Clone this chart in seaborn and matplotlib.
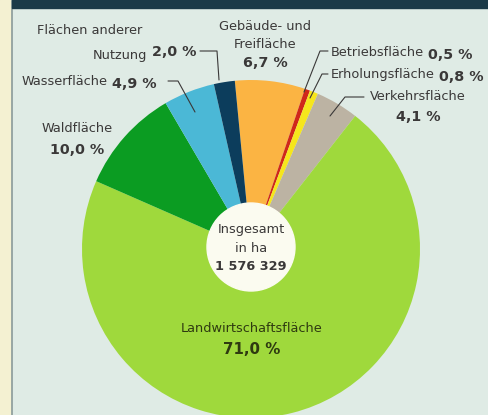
import matplotlib
matplotlib.use("Agg")
import matplotlib.pyplot as plt
import seaborn as sns
from matplotlib.patches import Circle, Rectangle

# Flächennutzung, Anteile in %
categories = ["Gebäude- und Freifläche", "Betriebsfläche", "Erholungsfläche", "Verkehrsfläche",
              "Landwirtschaftsfläche", "Waldfläche", "Wasserfläche", "Flächen anderer Nutzung"]
shares = [6.7, 0.5, 0.8, 4.1, 71.0, 10.0, 4.9, 2.0]
total_ha = "1 576 329"
colors = ["#fbb443", "#d0281a", "#f6e61c", "#bcb3a3", "#9fd93c", "#0b9c22", "#4bb8d6", "#0c3d5c"]

sns.set_style("white")
plt.rcParams["font.family"] = ["DejaVu Sans"]

W, H = 488, 415
fig = plt.figure(figsize=(W / 100, H / 100), dpi=100)
ax = fig.add_axes([0, 0, 1, 1])
bg = "#dfebe5"
fig.patch.set_facecolor(bg)
ax.set_facecolor(bg)

def Y(y):
    return H - y

# frame bits of the scan
ax.add_patch(Rectangle((0, 0), 11, H, color="#f4f1d2", zorder=0))
ax.plot([11.5, 11.5], [0, H], color="#8a9a9a", lw=1.2, zorder=1)
ax.add_patch(Rectangle((12, Y(8)), W, 8, color="#1b3a48", zorder=1))

pal = sns.color_palette(colors)
ax.pie(shares, colors=pal, startangle=95.5, counterclock=False,
       center=(251, Y(249)), radius=169, frame=True,
       wedgeprops=dict(linewidth=0))
ax.set_xlim(0, W)
ax.set_ylim(0, H)
ax.set_aspect("equal")
ax.axis("off")

ax.add_patch(Circle((251, Y(247)), 44, color="#fbfbf0", zorder=5))

tc = "#3a3838"
fs = 9.3
ax.text(251, Y(230), "Insgesamt", ha="center", va="center", fontsize=fs, color=tc, zorder=6)
ax.text(251, Y(248), "in ha", ha="center", va="center", fontsize=fs, color=tc, zorder=6)
ax.text(251, Y(266), total_ha, ha="center", va="center", fontsize=fs, color=tc,
        fontweight="bold", zorder=6)

def pct(v):
    return f"{v:.1f} %".replace(".", ",")

def inline(x, y, label, value, ha="left"):
    # label in normal weight, percentage in bold right after it
    if ha == "left":
        t = ax.text(x, y, label, ha="left", va="baseline", fontsize=fs, color=tc)
        ax.annotate(pct(value), xy=(1, 0), xycoords=t, xytext=(3, 0), textcoords="offset points",
                    ha="left", va="baseline", fontsize=fs + 1, color=tc, fontweight="bold")
    else:
        t = ax.text(x, y, pct(value), ha="right", va="baseline", fontsize=fs + 1, color=tc,
                    fontweight="bold")
        ax.annotate(label, xy=(0, 0), xycoords=t, xytext=(-3, 0), textcoords="offset points",
                    ha="right", va="baseline", fontsize=fs, color=tc)

# labels
ax.text(37, Y(31), "Flächen anderer", ha="left", va="center", fontsize=fs, color=tc)
inline(196, Y(56), "Nutzung", shares[7], ha="right")
ax.plot([200, 217, 219], [Y(51), Y(51), Y(80)], color=tc, lw=0.8)

ax.text(265, Y(27), "Gebäude- und", ha="center", va="center", fontsize=fs, color=tc)
ax.text(265, Y(45), "Freifläche", ha="center", va="center", fontsize=fs, color=tc)
ax.text(265, Y(63), pct(shares[0]), ha="center", va="center", fontsize=fs + 1, color=tc, fontweight="bold")

inline(331, Y(56), "Betriebsfläche", shares[1])
ax.plot([328, 320, 304], [Y(51), Y(51), Y(92)], color=tc, lw=0.8)

inline(331, Y(78), "Erholungsfläche", shares[2])
ax.plot([328, 322, 310], [Y(74), Y(74), Y(98)], color=tc, lw=0.8)

ax.text(418, Y(97), "Verkehrsfläche", ha="center", va="center", fontsize=fs, color=tc)
ax.text(418, Y(117), pct(shares[3]), ha="center", va="center", fontsize=fs + 1, color=tc, fontweight="bold")
ax.plot([364, 345, 330], [Y(97), Y(97), Y(116)], color=tc, lw=0.8)

inline(22, Y(85), "Wasserfläche", shares[6])
ax.plot([168, 178, 195], [Y(81), Y(81), Y(112)], color=tc, lw=0.8)

ax.text(77, Y(129), "Waldfläche", ha="center", va="center", fontsize=fs, color=tc)
ax.text(77, Y(150), pct(shares[5]), ha="center", va="center", fontsize=fs + 1, color=tc, fontweight="bold")

ax.text(252, Y(329), "Landwirtschaftsfläche", ha="center", va="center", fontsize=fs, color="#2e3a10")
ax.text(252, Y(350), pct(shares[4]), ha="center", va="center", fontsize=fs + 1.5, color="#2e3a10", fontweight="bold")

fig.savefig("out.png", dpi=100, facecolor=fig.get_facecolor())
